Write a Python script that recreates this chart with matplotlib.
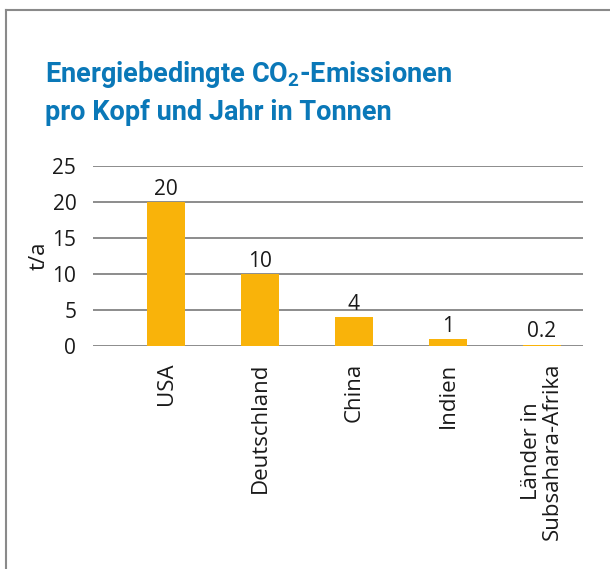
import matplotlib
matplotlib.use("Agg")
import matplotlib.pyplot as plt
from matplotlib import font_manager as fm

categories = ["USA", "Deutschland", "China", "Indien", "Länder in\nSubsahara-Afrika"]
values = [20, 10, 4, 1, 0.2]
value_labels = ["20", "10", "4", "1", "0.2"]
yticks = [0, 5, 10, 15, 20, 25]

names = {f.name for f in fm.fontManager.ttflist}
title_font = "Liberation Sans Narrow" if "Liberation Sans Narrow" in names else "Roboto"
plt.rcParams["font.family"] = ["Open Sans", "DejaVu Sans"]
plt.rcParams["mathtext.default"] = "regular"

fig = plt.figure(figsize=(6.10, 5.69), dpi=100)
ax = fig.add_axes([0.1525, 0.3919, 0.803, 0.3164])

x = list(range(len(categories)))
ax.bar(x, values, width=0.4, color="#F9B30A", zorder=3)
for xi, v, lab in zip(x, values, value_labels):
    ax.text(xi, v + 0.3, lab, ha="center", va="bottom", fontsize=15, color="#1a1a1a")

ax.set_ylim(0, 25)
ax.set_xlim(-0.777, 4.436)
ax.set_yticks(yticks)
ax.yaxis.grid(True, color="#8c8c8c", linewidth=1.4, zorder=0)
ax.set_axisbelow(True)
for s in ax.spines.values():
    s.set_visible(False)
ax.tick_params(axis="both", length=0, labelsize=15, colors="#1a1a1a")
ax.tick_params(axis="y", pad=12)
ax.tick_params(axis="x", pad=12)
ax.set_xticks(x)
ax.set_xticklabels(categories, rotation=90, va="top", ha="center", fontsize=16,
                   linespacing=0.95)
ax.set_ylabel("t/a", fontsize=16, color="#1a1a1a", labelpad=2)

fig.text(45/610, 1-59/569, "Energiebedingte CO$_2$-Emissionen\npro Kopf und Jahr in Tonnen",
         ha="left", va="top", fontsize=19.5, fontweight="bold",
         color="#0A78B8", family=title_font, linespacing=1.42)

# frame lines
fig.add_artist(plt.Line2D([6/610, 6/610], [0, 1-10/569], color="#8a8a8a", lw=1.5,
                          transform=fig.transFigure))
fig.add_artist(plt.Line2D([6/610, 1], [1-10/569, 1-10/569], color="#8a8a8a", lw=1.5,
                          transform=fig.transFigure))

fig.savefig("out.png", dpi=100)
